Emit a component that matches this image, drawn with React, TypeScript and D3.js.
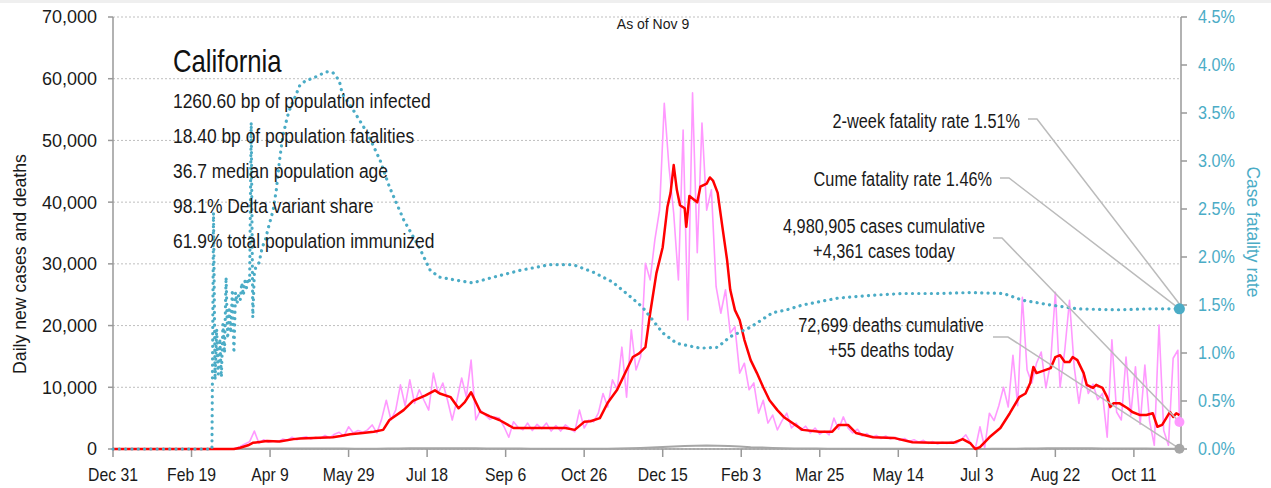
import React from 'react';
import * as d3 from 'd3';

const startDate = new Date(2019, 11, 31);
const lastDay = 680;
const todayIdx = 679;

const xTickDays = [0, 50, 100, 150, 200, 250, 300, 350, 400, 450, 500, 550, 600, 650];
const leftTicks = [0, 10000, 20000, 30000, 40000, 50000, 60000, 70000];
const rightTicks = [0, 0.5, 1, 1.5, 2, 2.5, 3, 3.5, 4, 4.5];

// daily new cases, one value every 3 days from Dec 31
const dailyCases = [
  0, 0, 0, 0, 0, 0, 0, 0, 0, 0, 0, 0, 0, 0, 0, 0, 0, 0, 0, 0, 0, 0, 0, 0, 0, 0,
  100, 400, 800, 1200, 2900, 900, 1500, 1100, 1300, 1200, 1600, 1400, 1900, 1500,
  1800, 2000, 1600, 1900, 1700, 2200, 1800, 2400, 2700, 2100, 3600, 2600, 3000, 2700,
  3100, 3900, 2600, 4800, 7900, 4700, 6300, 10400, 7000, 11200, 7400, 9600, 7900, 6300,
  12300, 9000, 10700, 7900, 4700, 7900, 11500, 8400, 14400, 4700, 6300, 5500, 4800, 5200,
  5000, 3600, 1900, 4400, 3500, 3100, 4200, 3000, 4000, 3300, 4200, 2900, 3800, 2900,
  3900, 3300, 2800, 6300, 3400, 4700, 4400, 5800, 9000, 6800, 11200, 9600, 16500, 8400,
  19300, 12800, 15000, 30100, 27400, 33900, 38700, 56000, 45700, 38200, 27400, 51700, 20900, 57700,
  31800, 52800, 38700, 42000, 26300, 22000, 25800, 18800, 19800, 12300, 13900, 9600, 10700, 5800,
  7900, 4200, 5500, 3100, 4600, 5800, 3400, 4200, 3000, 3700, 2600, 3400, 2400, 2900,
  2300, 5000, 3200, 5200, 3400, 2600, 3200, 2100, 2500, 1900, 2200, 1700, 2100, 1600,
  1900, 1400, 1700, 1200, 1500, 1100, 1400, 900, 1200, 800, 1100, 900, 1200, 900,
  1500, 2300, 1000, 0, 3600, 200, 5800, 4600, 7000, 10000, 6800, 15200, 7000, 24600,
  12800, 10700, 13900, 15700, 9900, 14000, 25400, 10000, 16000, 24100, 13300, 7400, 12500, 9000,
  10500, 8000, 9000, 1900, 17700, 6000, 4700, 14900, 5500, 13300, 4000, 13600, 4500, 600,
  20100, 3000, 600, 14700, 16000,
];

// 7-day average of new cases, by day since Dec 31
const avgDays = [
  0, 77, 81, 86, 89, 98, 106, 115, 119, 140, 145, 151, 159, 166, 172, 176, 185, 191, 199, 205,
  208, 215, 220, 224, 228, 234, 240, 246, 255, 272, 288, 294, 300, 304, 310, 315, 321, 327, 331, 335,
  339, 342, 346, 350, 353, 355, 357, 359, 361, 364, 365, 367, 372, 374, 378, 380, 382, 385, 388, 391,
  393, 396, 399, 402, 406, 410, 414, 418, 423, 427, 431, 439, 450, 458, 462, 468, 473, 484, 497, 509,
  522, 535, 541, 546, 549, 552, 558, 565, 571, 577, 581, 584, 586, 588, 597, 600, 603, 606, 609, 611,
  614, 618, 620, 624, 626, 630, 633, 635, 637, 641, 646, 649, 654, 658, 662, 665, 668, 673, 675, 677,
  679,
];
const avgValues = [
  0, 0, 200, 600, 1000, 1300, 1200, 1600, 1700, 1900, 2100, 2400, 2600, 2800, 3100, 4700, 6300, 7800, 8700, 9500,
  9000, 8400, 6600, 7600, 9200, 6000, 5300, 4700, 3400, 3400, 3400, 3100, 4400, 4500, 5000, 7500, 9600, 12800, 14900, 15500,
  16500, 22000, 28500, 32700, 39200, 41500, 46000, 42000, 39500, 39000, 36000, 41000, 40000, 42500, 43000, 44000, 43500, 41500, 36000, 30600,
  25800, 22500, 20900, 17700, 14400, 12300, 10000, 7900, 6300, 5200, 4500, 3100, 2800, 2800, 3900, 3900, 2600, 1900, 1800, 1100,
  1000, 1000, 1600, 900, 0, 300, 1900, 3400, 5800, 8400, 9000, 10700, 13300, 12300, 13100, 14900, 15200, 14100, 14100, 14900,
  14400, 12300, 10400, 9900, 10400, 9900, 8400, 6800, 7400, 7400, 6600, 6000, 5500, 5500, 5800, 3600, 3900, 6000, 5200, 5800,
  5500,
];

// daily deaths, one value every 7 days
const dailyDeaths = [
  0, 0, 0, 0, 0, 0, 0, 0, 0, 0, 0, 10, 30, 50, 70, 80, 80, 75, 75, 70,
  70, 65, 60, 55, 60, 70, 90, 110, 130, 140, 140, 130, 120, 110, 100, 90, 80, 70, 60, 55,
  50, 50, 45, 45, 50, 60, 80, 120, 170, 250, 320, 400, 480, 540, 560, 520, 470, 400, 300, 240,
  180, 130, 100, 80, 70, 60, 55, 50, 40, 35, 30, 30, 25, 25, 20, 20, 20, 20, 15, 20,
  25, 35, 50, 70, 90, 110, 120, 120, 115, 110, 100, 90, 80, 75, 70, 60, 55, 55,
];

// case fatality rate (%), by day since Dec 31
const cfrDays = [
  0, 63, 64, 65, 66, 67, 68, 69, 70, 71, 72, 73, 74, 75, 76, 77, 78, 79, 80, 81,
  82, 83, 84, 85, 86, 87, 88, 89, 90, 91, 93, 95, 97, 99, 102, 104, 106, 108, 111, 113,
  115, 119, 123, 127, 132, 136, 140, 144, 146, 153, 162, 170, 176, 185, 195, 202, 208, 218, 229, 240,
  259, 278, 293, 306, 318, 327, 337, 350, 359, 374, 385, 393, 406, 420, 429, 439, 461, 482, 503, 525,
  546, 567, 579, 597, 614, 639, 660, 679,
];
const cfrRates = [
  0, 0, 2.46, 0.72, 1.25, 0.78, 1.15, 0.75, 1.3, 1.0, 1.79, 1.15, 1.48, 1.21, 1.66, 1.0, 1.63, 1.52, 1.6, 1.55,
  1.73, 1.6, 1.75, 1.68, 1.78, 1.75, 3.4, 1.37, 1.83, 1.9, 1.94, 2.1, 2.18, 2.31, 2.49, 2.7, 3.0, 3.25, 3.46, 3.56,
  3.63, 3.79, 3.84, 3.86, 3.9, 3.93, 3.92, 3.84, 3.7, 3.53, 3.29, 3.01, 2.73, 2.39, 2.1, 1.86, 1.79, 1.76, 1.73, 1.78,
  1.86, 1.92, 1.92, 1.84, 1.74, 1.62, 1.48, 1.21, 1.1, 1.05, 1.06, 1.17, 1.27, 1.42, 1.45, 1.5, 1.57, 1.6, 1.62, 1.62,
  1.63, 1.62, 1.55, 1.5, 1.46, 1.45, 1.46, 1.46,
];

const casesToday = 4361;
const deathsToday = 55;
const cfrCume = 1.46;
const cfr2Week = 1.51;
const casesCumulative = 4980905;
const deathsCumulative = 72699;

const stateName = 'California';
const statLines = [
  '1260.60 bp of population infected',
  '18.40 bp of population fatalities',
  '36.7 median population age',
  '98.1% Delta variant share',
  '61.9% total population immunized',
];

const FONT = '"Liberation Sans", Arial, sans-serif';
const TEAL = '#4bacc6';
const PINK = '#ff99ff';
const RED = '#ff0000';
const GREY = '#a6a6a6';
const INK = '#1a1a1a';

const W = 1271, H = 488;
const left = 113, right = 1181, top = 17, bottom = 449;

// text squeezed horizontally to imitate the condensed face of the original
function T(props: { x: number; y: number; size: number; sx?: number; anchor?: string; fill?: string; rot?: number; dy?: string; children: React.ReactNode }) {
  const { x, y, size, sx = 1, anchor = 'start', fill = INK, rot = 0, dy, children } = props;
  return (
    <text transform={`translate(${x},${y}) rotate(${rot}) scale(${sx},1)`} fontSize={size}
      textAnchor={anchor} fill={fill} dy={dy}>{children}</text>
  );
}

export default function App() {
  const day = (d: number) => d3.timeDay.offset(startDate, d);
  const x = d3.scaleTime().domain([startDate, day(lastDay)]).range([left, right]);
  const yL = d3.scaleLinear().domain([0, 70000]).range([bottom, top]);
  const yR = d3.scaleLinear().domain([0, 4.5]).range([bottom, top]);
  const fmtDate = d3.timeFormat('%b %-d');
  const fmtNum = d3.format(',');

  const casesPts: [number, number][] = dailyCases.map((v, i) => [i * 3, v]);
  casesPts.push([todayIdx, casesToday]);
  const avgPts: [number, number][] = avgDays.map((d, i) => [d, avgValues[i]]);
  const deathPts: [number, number][] = dailyDeaths.map((v, i) => [i * 7, v]);
  const cfrPts: [number, number][] = cfrDays.map((d, i) => [d, cfrRates[i]]);

  const lineL = d3.line<[number, number]>().x(d => x(day(d[0]))).y(d => yL(d[1]));
  const lineR = d3.line<[number, number]>().x(d => x(day(d[0]))).y(d => yR(d[1]));

  const ex = x(day(todayIdx));
  const leader = (pts: [number, number][]) => pts.map(p => p.join(',')).join(' ');

  return (
    <svg width={W} height={H} style={{ position: 'absolute', left: 0, top: 0, background: '#fff' }}
      fontFamily={FONT}>
      <rect x={0} y={0} width={W} height={3} fill="#efefef" />

      {/* grid */}
      {leftTicks.map(t => (
        <line key={'g' + t} x1={left} x2={right} y1={yL(t)} y2={yL(t)}
          stroke="#bfbfbf" strokeWidth={1} strokeDasharray="2 2" />
      ))}

      {/* axes */}
      <line x1={left} x2={left} y1={top} y2={bottom} stroke="#999" strokeWidth={1.5} />
      <line x1={right} x2={right} y1={top} y2={bottom} stroke="#999" strokeWidth={1.5} />
      <line x1={left} x2={right} y1={bottom} y2={bottom} stroke="#999" strokeWidth={1.5} />

      {leftTicks.map(t => (
        <g key={'l' + t}>
          <line x1={left - 5} x2={left} y1={yL(t)} y2={yL(t)} stroke="#999" strokeWidth={1.5} />
          <T x={97} y={yL(t)} dy="0.36em" anchor="end" size={18}>{fmtNum(t)}</T>
        </g>
      ))}
      {rightTicks.map(t => (
        <g key={'r' + t}>
          <line x1={right} x2={right + 6} y1={yR(t)} y2={yR(t)} stroke="#999" strokeWidth={1.5} />
          <T x={1198} y={yR(t)} dy="0.36em" size={18} sx={0.9} fill={TEAL}>{t.toFixed(1)}%</T>
        </g>
      ))}
      {xTickDays.map(d => (
        <g key={'x' + d}>
          <line x1={x(day(d))} x2={x(day(d))} y1={bottom} y2={bottom + 8} stroke="#999" strokeWidth={1.5} />
          <T x={x(day(d))} y={481} anchor="middle" size={19} sx={0.83}>{fmtDate(day(d))}</T>
        </g>
      ))}

      <T x={26} y={264} rot={-90} anchor="middle" size={19} sx={0.93}>Daily new cases and deaths</T>
      <T x={1247} y={232} rot={90} anchor="middle" size={19} sx={0.92} fill={TEAL}>Case fatality rate</T>

      {/* series */}
      <path d={lineL(casesPts) || ''} fill="none" stroke={PINK} strokeWidth={1.6} strokeLinejoin="round" />
      <path d={lineL(deathPts) || ''} fill="none" stroke={GREY} strokeWidth={2} strokeLinejoin="round" />
      <path d={lineL(avgPts) || ''} fill="none" stroke={RED} strokeWidth={2.5} strokeLinejoin="round" />
      <path d={lineR(cfrPts) || ''} fill="none" stroke={TEAL} strokeWidth={3.2}
        strokeDasharray="0.1 6.2" strokeLinecap="round" strokeLinejoin="round" />

      {/* leaders */}
      <polyline points={leader([[1028, 119], [1037, 119], [ex, yR(cfr2Week)]])} fill="none" stroke="#bbb" strokeWidth={1.5} />
      <polyline points={leader([[1000, 178], [1009, 178], [ex, yR(cfrCume)]])} fill="none" stroke="#bbb" strokeWidth={1.5} />
      <polyline points={leader([[993, 238], [1002, 238], [ex, yL(casesToday)]])} fill="none" stroke="#bbb" strokeWidth={1.5} />
      <polyline points={leader([[993, 337], [1008, 337], [ex, yL(deathsToday)]])} fill="none" stroke="#bbb" strokeWidth={1.5} />

      {/* end markers */}
      <circle cx={ex} cy={yR(cfrCume)} r={5.5} fill={TEAL} />
      <circle cx={ex} cy={yL(casesToday)} r={5} fill={PINK} />
      <circle cx={ex} cy={yL(deathsToday)} r={5} fill={GREY} />

      {/* annotations */}
      <T x={653} y={29} anchor="middle" size={14}>As of Nov 9</T>
      <T x={173} y={72} size={31} sx={0.83} fill="#111">{stateName}</T>
      {statLines.map((s, i) => (
        <T key={s} x={173} y={108 + i * 35} size={21} sx={0.83}>{s}</T>
      ))}

      <T x={1020} y={128} anchor="end" size={20} sx={0.815}>2-week fatality rate {cfr2Week.toFixed(2)}%</T>
      <T x={992} y={186} anchor="end" size={20} sx={0.815}>Cume fatality rate {cfrCume.toFixed(2)}%</T>
      <T x={884} y={233} anchor="middle" size={20} sx={0.815}>{fmtNum(casesCumulative)} cases cumulative</T>
      <T x={884} y={258} anchor="middle" size={20} sx={0.815}>+{fmtNum(casesToday)} cases today</T>
      <T x={891} y={332} anchor="middle" size={20} sx={0.815}>{fmtNum(deathsCumulative)} deaths cumulative</T>
      <T x={891} y={357} anchor="middle" size={20} sx={0.815}>+{deathsToday} deaths today</T>
    </svg>
  );
}
